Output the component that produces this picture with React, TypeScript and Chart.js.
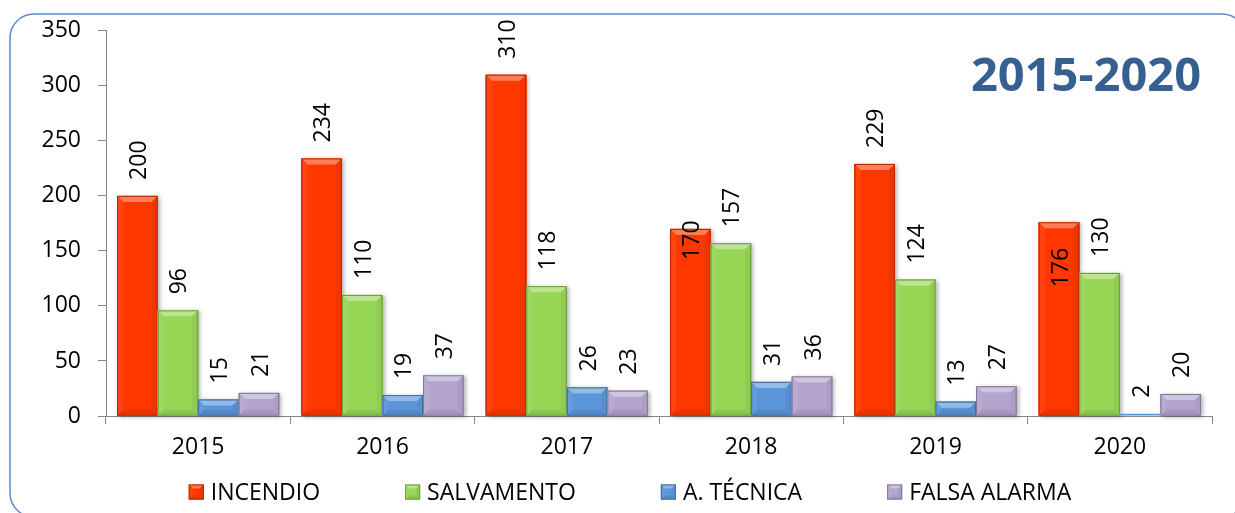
import React, { useEffect, useRef } from "react";
import { Chart, registerables } from "chart.js";

Chart.register(...registerables);

const categories = ["2015", "2016", "2017", "2018", "2019", "2020"];
const incendio = [200, 234, 310, 170, 229, 176];
const salvamento = [96, 110, 118, 157, 124, 130];
const tecnica = [15, 19, 26, 31, 13, 2];
const falsaAlarma = [21, 37, 23, 36, 27, 20];
const seriesNames = ["INCENDIO", "SALVAMENTO", "A. TÉCNICA", "FALSA ALARMA"];
const seriesColors = ["#FF3800", "#98D656", "#5B95DA", "#B4A5CE"];
const titleText = "2015-2020";

const FONT = '"Open Sans", "Noto Sans", sans-serif';

// labels that Excel moved inside the bar (dataset-index key -> downward shift in px)
const labelShift: Record<string, number> = { "0-3": 47, "0-5": 81 };

function mix(hex: string, amt: number): string {
  const n = parseInt(hex.slice(1), 16);
  let r = (n >> 16) & 255, g = (n >> 8) & 255, b = n & 255;
  if (amt >= 0) {
    r = r + (255 - r) * amt; g = g + (255 - g) * amt; b = b + (255 - b) * amt;
  } else {
    r = r * (1 + amt); g = g * (1 + amt); b = b * (1 + amt);
  }
  return `rgb(${Math.round(r)},${Math.round(g)},${Math.round(b)})`;
}

function poly(ctx: CanvasRenderingContext2D, pts: number[][], color: string) {
  ctx.beginPath();
  ctx.moveTo(pts[0][0], pts[0][1]);
  for (let i = 1; i < pts.length; i++) ctx.lineTo(pts[i][0], pts[i][1]);
  ctx.closePath();
  ctx.fillStyle = color;
  ctx.fill();
}

function bevelRect(ctx: CanvasRenderingContext2D, l: number, t: number, r: number, btm: number, color: string, size: number) {
  const h = btm - t;
  const w = r - l;
  if (h <= 0.5) return;
  const b = Math.min(size, h / 2, w / 2);
  ctx.fillStyle = color;
  ctx.fillRect(l, t, w, h);
  poly(ctx, [[l, t], [r, t], [r - b, t + b], [l + b, t + b]], mix(color, 0.35));
  poly(ctx, [[l, btm], [r, btm], [r - b, btm - b], [l + b, btm - b]], mix(color, -0.08));
  poly(ctx, [[l, t], [l + b, t + b], [l + b, btm - b], [l, btm]], mix(color, 0.06));
  poly(ctx, [[r, t], [r - b, t + b], [r - b, btm - b], [r, btm]], mix(color, -0.05));
  ctx.strokeStyle = mix(color, -0.28);
  ctx.lineWidth = 1;
  ctx.strokeRect(l + 0.5, t + 0.5, w - 1, h - 1);
}

const decorPlugin = {
  id: "decor",
  beforeDraw(chart: any) {
    const ctx = chart.ctx as CanvasRenderingContext2D;
    ctx.save();
    ctx.fillStyle = "#ffffff";
    ctx.fillRect(0, 0, chart.width, chart.height);
    ctx.beginPath();
    (ctx as any).roundRect(10, 14, 1236, 503, 24);
    ctx.strokeStyle = "#5B8BD0";
    ctx.lineWidth = 1.5;
    ctx.stroke();
    ctx.restore();
  },
  beforeDatasetsDraw(chart: any) {
    const ctx = chart.ctx as CanvasRenderingContext2D;
    ctx.save();
    chart.data.datasets.forEach((ds: any, di: number) => {
      const meta = chart.getDatasetMeta(di);
      meta.data.forEach((el: any) => {
        const p = el.getProps(["x", "y", "base", "width"], true);
        const h = p.base - p.y;
        if (h < 3) return;
        ctx.shadowColor = "rgba(0,0,0,0.3)";
        ctx.shadowBlur = 4;
        ctx.shadowOffsetX = 2;
        ctx.shadowOffsetY = 1;
        ctx.fillStyle = ds.backgroundColor;
        ctx.fillRect(p.x - p.width / 2, p.y, p.width, h);
      });
    });
    ctx.restore();
  },
  afterDatasetsDraw(chart: any) {
    const ctx = chart.ctx as CanvasRenderingContext2D;
    ctx.save();
    chart.data.datasets.forEach((ds: any, di: number) => {
      const meta = chart.getDatasetMeta(di);
      meta.data.forEach((el: any) => {
        const p = el.getProps(["x", "y", "base", "width"], true);
        if (p.base - p.y < 3) return;
        bevelRect(ctx, p.x - p.width / 2, p.y, p.x + p.width / 2, p.base, ds.backgroundColor, 6);
      });
    });
    // data labels
    ctx.font = `23px ${FONT}`;
    ctx.fillStyle = "#000000";
    ctx.textAlign = "left";
    ctx.textBaseline = "middle";
    chart.data.datasets.forEach((ds: any, di: number) => {
      const meta = chart.getDatasetMeta(di);
      meta.data.forEach((el: any, i: number) => {
        const p = el.getProps(["x", "y"], true);
        const shift = labelShift[`${di}-${i}`] || 0;
        const ay = p.y - 16 + shift;
        ctx.save();
        ctx.translate(p.x + 2, ay);
        ctx.rotate(-Math.PI / 2);
        ctx.fillText(String(ds.data[i]), 0, 0);
        ctx.restore();
      });
    });
    ctx.restore();
  },
  afterDraw(chart: any) {
    const ctx = chart.ctx as CanvasRenderingContext2D;
    ctx.save();
    // title
    ctx.font = `bold 47px ${FONT}`;
    ctx.fillStyle = "#376092";
    ctx.textAlign = "right";
    ctx.textBaseline = "middle";
    ctx.fillText(titleText, 1201, 78);
    // legend
    ctx.font = `23px ${FONT}`;
    const box = 15, gapText = 7, gapItem = 85;
    const widths = seriesNames.map((n) => box + gapText + ctx.measureText(n).width);
    const total = widths.reduce((a, b) => a + b, 0) + gapItem * (seriesNames.length - 1);
    let x = 630 - total / 2;
    const cy = 492;
    ctx.textAlign = "left";
    ctx.textBaseline = "middle";
    seriesNames.forEach((n, i) => {
      bevelRect(ctx, x, cy - 7.5, x + box, cy + 7.5, seriesColors[i], 4);
      ctx.fillStyle = "#000000";
      ctx.fillText(n, x + box + gapText, cy + 1);
      x += widths[i] + gapItem;
    });
    ctx.restore();
  },
};

export default function App() {
  const ref = useRef<HTMLCanvasElement>(null);
  useEffect(() => {
    if (!ref.current) return;
    const seriesData = [incendio, salvamento, tecnica, falsaAlarma];
    const chart = new Chart(ref.current, {
      type: "bar",
      data: {
        labels: categories,
        datasets: seriesData.map((d, i) => ({
          label: seriesNames[i],
          data: d,
          backgroundColor: seriesColors[i],
          borderWidth: 0,
          categoryPercentage: 0.88,
          barPercentage: 1,
        })),
      },
      options: {
        responsive: false,
        animation: false,
        layout: { padding: { top: 30, right: 23, left: 0, bottom: 0 } },
        plugins: {
          legend: { display: false },
          title: { display: false },
          tooltip: { enabled: false },
        },
        scales: {
          x: {
            grid: { drawOnChartArea: false, drawTicks: true, tickLength: 8, color: "#868686", offset: true },
            border: { color: "#868686", width: 1 },
            ticks: { color: "#000000", font: { family: FONT, size: 23 }, padding: 10 },
            afterFit: (s: any) => { s.height = 97; },
          },
          y: {
            min: 0,
            max: 350,
            grid: { drawOnChartArea: false, drawTicks: true, tickLength: 8, color: "#868686" },
            border: { color: "#868686", width: 1 },
            ticks: { stepSize: 50, color: "#000000", font: { family: FONT, size: 23 }, padding: 17 },
            afterFit: (s: any) => { s.width = 106; },
          },
        },
      } as any,
      plugins: [decorPlugin],
    });
    return () => chart.destroy();
  }, []);
  return (
    <div style={{ position: "fixed", left: 0, top: 0, width: 1235, height: 513, overflow: "hidden", background: "#fff" }}>
      <canvas ref={ref} width={1235} height={513} style={{ width: 1235, height: 513, display: "block" }} />
    </div>
  );
}
